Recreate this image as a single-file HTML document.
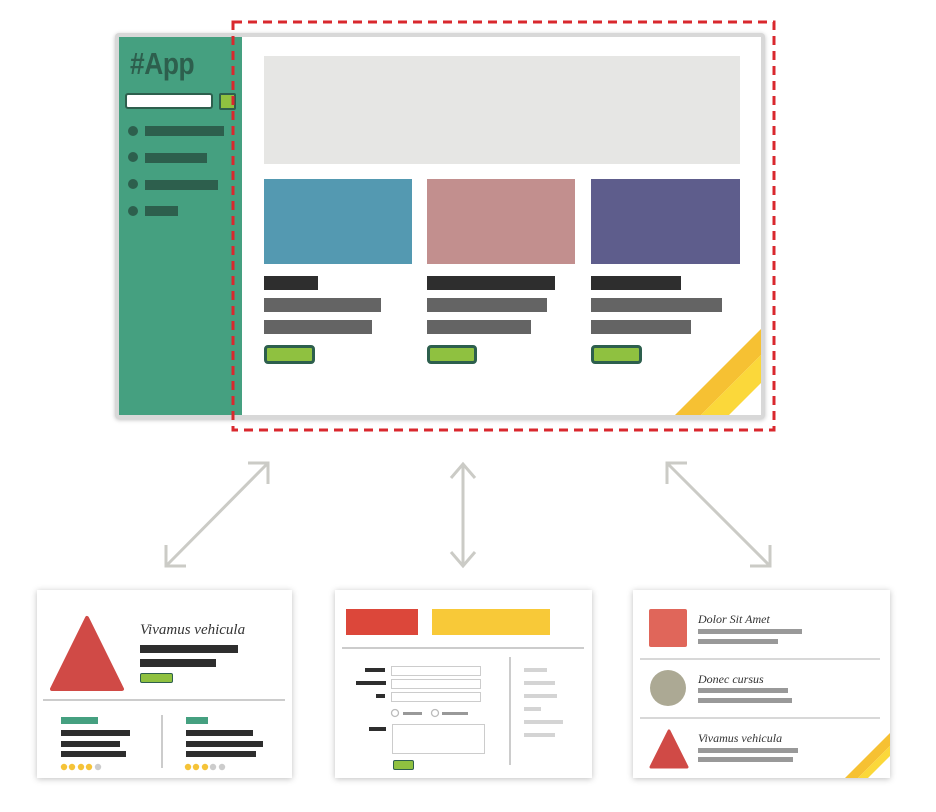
<!DOCTYPE html>
<html><head><meta charset="utf-8"><style>
body{margin:0;width:936px;height:812px;background:#fff;position:relative;overflow:hidden;font-family:"Liberation Sans",sans-serif}
.a{position:absolute}
.sc{font-family:"Liberation Serif",serif;font-style:italic;color:#333;font-size:13px;white-space:nowrap}
</style></head><body>
<!-- main window -->
<div class="a" style="left:115px;top:33px;width:650px;height:386px;background:#d8d8d8;border-radius:4px;box-shadow:0 1px 4px rgba(0,0,0,.25)"></div>
<div class="a" style="left:119px;top:37px;width:642px;height:378px;background:#fff;overflow:hidden">
  <div class="a" style="left:0;top:0;width:123px;height:378px;background:#45a080"></div>
  <svg class="a" style="left:0;top:0" width="642" height="378">
    <polygon points="556,378 642,292 642,318 582,378" fill="#f6c133"/>
    <polygon points="582,378 642,318 642,346 610,378" fill="#fbd83a"/>
  </svg>
</div>
<div class="a" style="left:130px;top:46px;font-size:31px;font-weight:bold;color:#2d5f4d;letter-spacing:-0.5px;transform:scaleX(0.85);transform-origin:left top">#App</div>
<div class="a" style="left:125px;top:93px;width:84px;height:12px;background:#fff;border:2.5px solid #2d5f4d;border-radius:3px"></div>
<div class="a" style="left:219px;top:93px;width:13px;height:13px;background:#8fc140;border:2px solid #2d5f4d;border-radius:2px"></div>
<div class="a" style="left:128px;top:126px;width:10px;height:10px;border-radius:50%;background:#2d5f4d"></div>
<div class="a" style="left:145px;top:126px;width:79px;height:10px;background:#2d5f4d"></div>
<div class="a" style="left:128px;top:152px;width:10px;height:10px;border-radius:50%;background:#2d5f4d"></div>
<div class="a" style="left:145px;top:153px;width:62px;height:10px;background:#2d5f4d"></div>
<div class="a" style="left:128px;top:179px;width:10px;height:10px;border-radius:50%;background:#2d5f4d"></div>
<div class="a" style="left:145px;top:180px;width:73px;height:10px;background:#2d5f4d"></div>
<div class="a" style="left:128px;top:206px;width:10px;height:10px;border-radius:50%;background:#2d5f4d"></div>
<div class="a" style="left:145px;top:206px;width:33px;height:10px;background:#2d5f4d"></div>

<div class="a" style="left:264px;top:56px;width:476px;height:108px;background:#e6e6e4"></div>
<div class="a" style="left:264px;top:179px;width:148px;height:85px;background:#5499b1"></div>
<div class="a" style="left:427px;top:179px;width:148px;height:85px;background:#c28f8e"></div>
<div class="a" style="left:591px;top:179px;width:149px;height:85px;background:#5e5d8c"></div>

<div class="a" style="left:264px;top:276px;width:54px;height:14px;background:#2e2e2e"></div>
<div class="a" style="left:264px;top:298px;width:117px;height:14px;background:#646464"></div>
<div class="a" style="left:264px;top:320px;width:108px;height:14px;background:#646464"></div>
<div class="a" style="left:264px;top:345px;width:45px;height:13px;background:#8fc140;border:3px solid #2d5f4d;border-radius:4px"></div>

<div class="a" style="left:427px;top:276px;width:128px;height:14px;background:#2e2e2e"></div>
<div class="a" style="left:427px;top:298px;width:120px;height:14px;background:#646464"></div>
<div class="a" style="left:427px;top:320px;width:104px;height:14px;background:#646464"></div>
<div class="a" style="left:427px;top:345px;width:44px;height:13px;background:#8fc140;border:3px solid #2d5f4d;border-radius:4px"></div>

<div class="a" style="left:591px;top:276px;width:90px;height:14px;background:#2e2e2e"></div>
<div class="a" style="left:591px;top:298px;width:131px;height:14px;background:#646464"></div>
<div class="a" style="left:591px;top:320px;width:100px;height:14px;background:#646464"></div>
<div class="a" style="left:591px;top:345px;width:45px;height:13px;background:#8fc140;border:3px solid #2d5f4d;border-radius:4px"></div>

<!-- dashed -->
<svg class="a" style="left:0;top:0" width="936" height="812">
  <rect x="233" y="22" width="541" height="408" fill="none" stroke="#d9282e" stroke-width="3" stroke-dasharray="9,6"/>
  <g stroke="#cbcbc6" stroke-width="3" fill="none">
    <line x1="268" y1="463" x2="166" y2="566"/>
    <polyline points="248,463 268,463 268,484"/>
    <polyline points="166,545 166,566 186,566"/>
    <line x1="463" y1="464" x2="463" y2="566"/>
    <polyline points="451,478 463,464 475,478"/>
    <polyline points="451,552 463,566 475,552"/>
    <line x1="667" y1="463" x2="770" y2="566"/>
    <polyline points="687,463 667,463 667,484"/>
    <polyline points="770,545 770,566 750,566"/>
  </g>
</svg>

<!-- bottom cards -->
<div class="a" style="left:37px;top:590px;width:255px;height:188px;background:#fff;box-shadow:0 1px 6px rgba(0,0,0,.25)"></div>
<div class="a" style="left:335px;top:590px;width:257px;height:188px;background:#fff;box-shadow:0 1px 6px rgba(0,0,0,.25)"></div>
<div class="a" style="left:633px;top:590px;width:257px;height:188px;background:#fff;box-shadow:0 1px 6px rgba(0,0,0,.25);overflow:hidden">
  <svg class="a" style="left:0;top:0" width="257" height="188"><polygon points="212,188 257,143 257,156 225,188" fill="#f6c133"/><polygon points="225,188 257,156 257,166 235,188" fill="#fbd83a"/></svg>
</div>
<svg class="a" style="left:0;top:0" width="936" height="812">
  <polygon points="87,618 122,689 52,689" fill="#d04a46" stroke="#d04a46" stroke-width="4" stroke-linejoin="round"/>
  <line x1="43" y1="700" x2="285" y2="700" stroke="#ccc" stroke-width="2"/>
  <line x1="162" y1="715" x2="162" y2="768" stroke="#ccc" stroke-width="2"/>
  <g fill="#f5c338"><circle cx="64" cy="767" r="3.2"/><circle cx="72" cy="767" r="3.2"/><circle cx="81" cy="767" r="3.2"/><circle cx="89" cy="767" r="3.2"/><circle cx="188" cy="767" r="3.2"/><circle cx="196" cy="767" r="3.2"/><circle cx="205" cy="767" r="3.2"/></g>
  <g fill="#ccc"><circle cx="98" cy="767" r="3.2"/><circle cx="213" cy="767" r="3.2"/><circle cx="222" cy="767" r="3.2"/></g>
  <line x1="342" y1="648" x2="584" y2="648" stroke="#ccc" stroke-width="2"/>
  <line x1="510" y1="657" x2="510" y2="765" stroke="#ccc" stroke-width="2"/>
  <circle cx="395" cy="713" r="3.5" fill="none" stroke="#bbb" stroke-width="1.3"/>
  <circle cx="435" cy="713" r="3.5" fill="none" stroke="#bbb" stroke-width="1.3"/>
  <line x1="640" y1="659" x2="880" y2="659" stroke="#ccc" stroke-width="1.5"/>
  <line x1="640" y1="718" x2="880" y2="718" stroke="#ccc" stroke-width="1.5"/>
  <circle cx="668" cy="688" r="18" fill="#aca994"/>
  <polygon points="669,731 687,767 651,767" fill="#d04a46" stroke="#d04a46" stroke-width="3" stroke-linejoin="round"/>
</svg>
<!-- card1 -->
<div class="a sc" style="left:140px;top:622px;font-size:15px">Vivamus vehicula</div>
<div class="a" style="left:140px;top:645px;width:98px;height:8px;background:#2e2e2e"></div>
<div class="a" style="left:140px;top:659px;width:76px;height:8px;background:#2e2e2e"></div>
<div class="a" style="left:140px;top:673px;width:31px;height:8px;background:#8fc140;border:1.5px solid #2d5f4d;border-radius:2px"></div>
<div class="a" style="left:61px;top:717px;width:37px;height:7px;background:#45a080"></div>
<div class="a" style="left:61px;top:730px;width:69px;height:6px;background:#2e2e2e"></div>
<div class="a" style="left:61px;top:741px;width:59px;height:6px;background:#2e2e2e"></div>
<div class="a" style="left:61px;top:751px;width:65px;height:6px;background:#2e2e2e"></div>
<div class="a" style="left:186px;top:717px;width:22px;height:7px;background:#45a080"></div>
<div class="a" style="left:186px;top:730px;width:67px;height:6px;background:#2e2e2e"></div>
<div class="a" style="left:186px;top:741px;width:77px;height:6px;background:#2e2e2e"></div>
<div class="a" style="left:186px;top:751px;width:70px;height:6px;background:#2e2e2e"></div>
<!-- card2 -->
<div class="a" style="left:346px;top:609px;width:72px;height:26px;background:#dc473a"></div>
<div class="a" style="left:432px;top:609px;width:118px;height:26px;background:#f8c938"></div>
<div class="a" style="left:365px;top:668px;width:20px;height:4px;background:#2e2e2e"></div>
<div class="a" style="left:356px;top:681px;width:30px;height:4px;background:#2e2e2e"></div>
<div class="a" style="left:376px;top:694px;width:9px;height:4px;background:#2e2e2e"></div>
<div class="a" style="left:369px;top:727px;width:17px;height:4px;background:#2e2e2e"></div>
<div class="a" style="left:391px;top:666px;width:88px;height:8px;border:1.5px solid #ccc"></div>
<div class="a" style="left:391px;top:679px;width:88px;height:8px;border:1.5px solid #ccc"></div>
<div class="a" style="left:391px;top:692px;width:88px;height:8px;border:1.5px solid #ccc"></div>
<div class="a" style="left:403px;top:712px;width:19px;height:3px;background:#999"></div>
<div class="a" style="left:442px;top:712px;width:26px;height:3px;background:#999"></div>
<div class="a" style="left:392px;top:724px;width:91px;height:28px;border:1.5px solid #ccc"></div>
<div class="a" style="left:393px;top:760px;width:19px;height:8px;background:#8fc140;border:1.5px solid #2d5f4d;border-radius:2px"></div>
<div class="a" style="left:524px;top:668px;width:23px;height:4px;background:#d4d4d4"></div>
<div class="a" style="left:524px;top:681px;width:31px;height:4px;background:#d4d4d4"></div>
<div class="a" style="left:524px;top:694px;width:33px;height:4px;background:#d4d4d4"></div>
<div class="a" style="left:524px;top:707px;width:17px;height:4px;background:#d4d4d4"></div>
<div class="a" style="left:524px;top:720px;width:39px;height:4px;background:#d4d4d4"></div>
<div class="a" style="left:524px;top:733px;width:31px;height:4px;background:#d4d4d4"></div>
<!-- card3 -->
<div class="a" style="left:649px;top:609px;width:38px;height:38px;background:#e0665a;border-radius:2px"></div>
<div class="a sc" style="left:698px;top:612px;font-size:12px">Dolor Sit Amet</div>
<div class="a" style="left:698px;top:629px;width:104px;height:5px;background:#999"></div>
<div class="a" style="left:698px;top:639px;width:80px;height:5px;background:#999"></div>
<div class="a sc" style="left:698px;top:672px;font-size:12px">Donec cursus</div>
<div class="a" style="left:698px;top:688px;width:90px;height:5px;background:#999"></div>
<div class="a" style="left:698px;top:698px;width:94px;height:5px;background:#999"></div>
<div class="a sc" style="left:698px;top:731px;font-size:12px">Vivamus vehicula</div>
<div class="a" style="left:698px;top:748px;width:100px;height:5px;background:#999"></div>
<div class="a" style="left:698px;top:757px;width:95px;height:5px;background:#999"></div>
</body></html>
